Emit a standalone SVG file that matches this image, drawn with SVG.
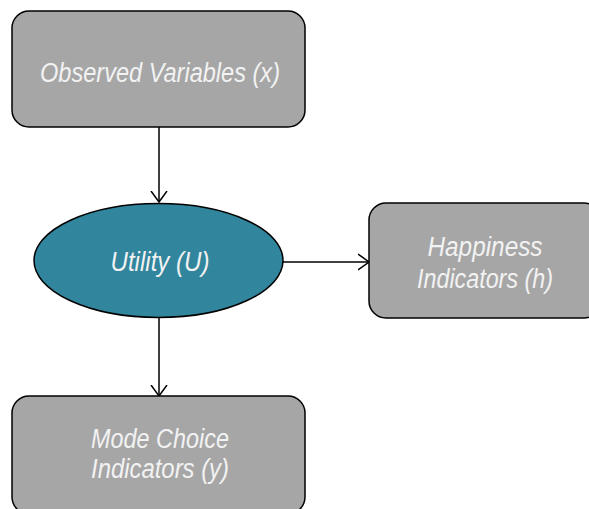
<svg xmlns="http://www.w3.org/2000/svg" width="589" height="509" viewBox="0 0 589 509">
<defs>
<style>
.box{fill:#a6a6a6;stroke:#000;stroke-width:1.5}
.ell{fill:#31859c;stroke:#000;stroke-width:1.5}
.lbl{font-family:"Liberation Sans Narrow","Liberation Sans",Arial,sans-serif;font-style:italic;font-size:27px;fill:#f2f2f2;text-anchor:middle}
.conn{stroke:#000;stroke-width:1.5;fill:none;marker-end:url(#arr)}
</style>
<marker id="arr" viewBox="0 0 12 18" refX="11" refY="9" markerWidth="12" markerHeight="18" markerUnits="userSpaceOnUse" orient="auto">
<path d="M0,1 L11,9 L0,17" fill="none" stroke="#000" stroke-width="1.5"/>
</marker>
</defs>
<g id="connectors">
<line class="conn" x1="159" y1="127" x2="159" y2="202"/>
<line class="conn" x1="283" y1="262" x2="369" y2="262"/>
<line class="conn" x1="159" y1="318" x2="159" y2="396"/>
</g>
<g id="observed">
<rect class="box" x="12" y="11" width="293" height="116" rx="17"/>
<text class="lbl" x="160" y="82" textLength="240" lengthAdjust="spacingAndGlyphs">Observed Variables (x)</text>
</g>
<g id="utility">
<ellipse class="ell" cx="158.5" cy="260.5" rx="124.5" ry="57"/>
<text class="lbl" x="160" y="271" textLength="99" lengthAdjust="spacingAndGlyphs">Utility (U)</text>
</g>
<g id="happiness">
<rect class="box" x="369" y="203" width="232" height="115" rx="17"/>
<text class="lbl" x="485" y="256" textLength="115" lengthAdjust="spacingAndGlyphs">Happiness</text>
<text class="lbl" x="485" y="288" textLength="136" lengthAdjust="spacingAndGlyphs">Indicators (h)</text>
</g>
<g id="modechoice">
<rect class="box" x="12" y="396" width="293" height="118" rx="17"/>
<text class="lbl" x="160" y="448" textLength="138" lengthAdjust="spacingAndGlyphs">Mode Choice</text>
<text class="lbl" x="160" y="478" textLength="138" lengthAdjust="spacingAndGlyphs">Indicators (y)</text>
</g>
</svg>
